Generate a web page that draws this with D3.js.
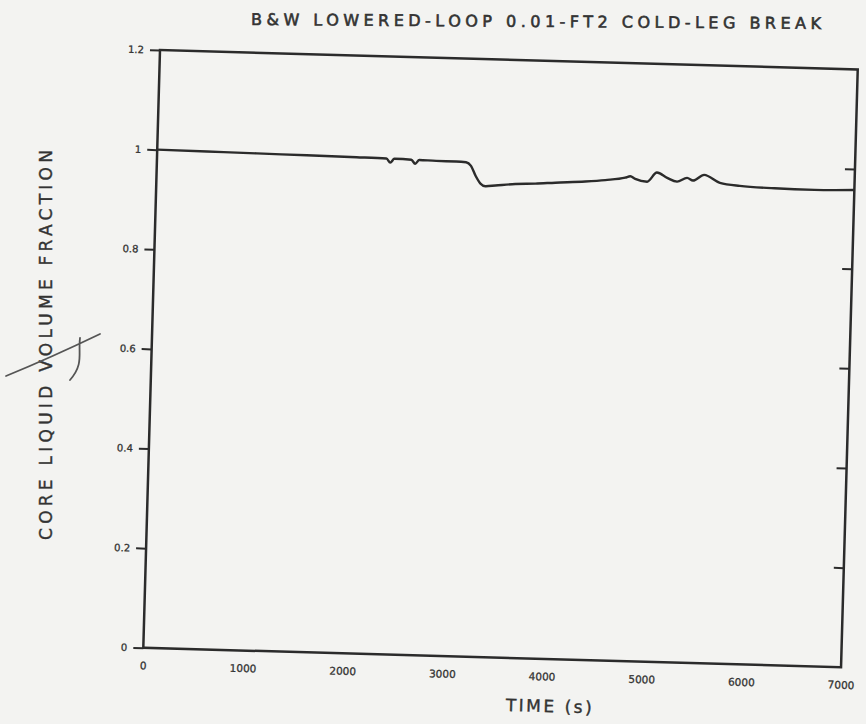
<!DOCTYPE html>
<html>
<head>
<meta charset="utf-8">
<script src="https://d3js.org/d3.v7.min.js"></script>
<style>
  body { margin: 0; background: #f3f3f1; }
  svg { display: block; }
  text { font-family: "DejaVu Sans", sans-serif; fill: #333; }
</style>
</head>
<body>
<div id="chart"></div>
<script>
// core liquid volume fraction vs time
const times    = [0, 500, 1000, 1500, 2000, 2300, 2340, 2380, 2550, 2590, 2630, 2800, 3000, 3100, 3150, 3200, 3250, 3300, 3400, 3600, 3800, 4000, 4300, 4500, 4700, 4750, 4800, 4920, 5016, 5120, 5220, 5320, 5380, 5490, 5650, 5850, 6200, 6600, 7000];
const fraction = [1.000, 0.999, 0.998, 0.997, 0.996, 0.995, 0.987, 0.995, 0.994, 0.986, 0.994, 0.993, 0.993, 0.992, 0.985, 0.965, 0.950, 0.945, 0.947, 0.951, 0.953, 0.956, 0.960, 0.964, 0.970, 0.973, 0.968, 0.963, 0.982, 0.972, 0.965, 0.973, 0.968, 0.980, 0.965, 0.960, 0.957, 0.956, 0.958];

const xTicks = [0, 1000, 2000, 3000, 4000, 5000, 6000, 7000];
const yTicks = [0, 0.2, 0.4, 0.6, 0.8, 1, 1.2];
const yTickLabels = ["0", "0.2", "0.4", "0.6", "0.8", "1", "1.2"];

const W = 866, H = 724;
const w = 698, h = 598;   // plot frame
const ink = "#2b2b2b";

const svg = d3.select("#chart").append("svg")
    .attr("width", W)
    .attr("height", H);

// the scanned page sits a little crooked
const g = svg.append("g")
    .attr("transform", "translate(160,50) rotate(1.6)");

const x = d3.scaleLinear().domain([0, 7000]).range([0, w]);
const y = d3.scaleLinear().domain([0, 1.2]).range([h, 0]);

g.append("rect")
    .attr("width", w)
    .attr("height", h)
    .attr("fill", "none")
    .attr("stroke", ink)
    .attr("stroke-width", 2.5);

// left axis: outward ticks
const yAxis = d3.axisLeft(y)
    .tickValues(yTicks)
    .tickSize(10)
    .tickPadding(6)
    .tickFormat((d, i) => yTickLabels[i]);

const ya = g.append("g").call(yAxis);
ya.select(".domain").remove();
ya.selectAll("line").attr("stroke", ink).attr("stroke-width", 2);
ya.selectAll("text").attr("font-size", 10).attr("fill", "#333")
    .attr("stroke", "#333").attr("stroke-width", 0.3).attr("font-family", "DejaVu Sans");

// right axis: inward ticks, no labels
const ra = g.append("g")
    .attr("transform", "translate(" + w + ",0)")
    .call(d3.axisLeft(y).tickValues(yTicks.slice(1, -1)).tickSize(10).tickFormat(""));
ra.select(".domain").remove();
ra.selectAll("line").attr("stroke", ink).attr("stroke-width", 2);

// bottom labels only
const xa = g.append("g")
    .attr("transform", "translate(0," + h + ")")
    .call(d3.axisBottom(x).tickValues(xTicks).tickSize(0).tickPadding(14).tickFormat(d3.format("d")));
xa.select(".domain").remove();
xa.selectAll("text").attr("font-size", 10.5).attr("fill", "#333")
    .attr("stroke", "#333").attr("stroke-width", 0.3).attr("font-family", "DejaVu Sans");

const line = d3.line()
    .x((d, i) => x(times[i]))
    .y(d => y(d))
    .curve(d3.curveMonotoneX);

g.append("path")
    .datum(fraction)
    .attr("d", line)
    .attr("fill", "none")
    .attr("stroke", ink)
    .attr("stroke-width", 2.4)
    .attr("stroke-linejoin", "round");

// x axis title
g.append("text")
    .attr("x", 407)
    .attr("y", 651)
    .attr("text-anchor", "middle")
    .attr("font-size", 17)
    .attr("stroke", "#333").attr("stroke-width", 0.4)
    .attr("textLength", 86)
    .attr("lengthAdjust", "spacing")
    .text("TIME (s)");

// chart title
svg.append("text")
    .attr("transform", "translate(536,27) rotate(0.4)")
    .attr("text-anchor", "middle")
    .attr("font-size", 16)
    .attr("stroke", "#333").attr("stroke-width", 0.6)
    .attr("textLength", 570)
    .attr("lengthAdjust", "spacing")
    .text("B&W LOWERED-LOOP 0.01-FT2 COLD-LEG BREAK");

// y axis title
svg.append("text")
    .attr("transform", "translate(52,345) rotate(-90)")
    .attr("text-anchor", "middle")
    .attr("font-size", 17)
    .attr("stroke", "#333").attr("stroke-width", 0.4)
    .attr("textLength", 390)
    .attr("lengthAdjust", "spacing")
    .text("CORE LIQUID VOLUME FRACTION");

// pen mark across the y title
svg.append("path")
    .attr("d", "M6,376 Q50,358 100,334 M80,338 C78,354 84,364 70,380")
    .attr("fill", "none")
    .attr("stroke", "#555")
    .attr("stroke-width", 1.8)
    .attr("stroke-linecap", "round");
</script>
</body>
</html>
